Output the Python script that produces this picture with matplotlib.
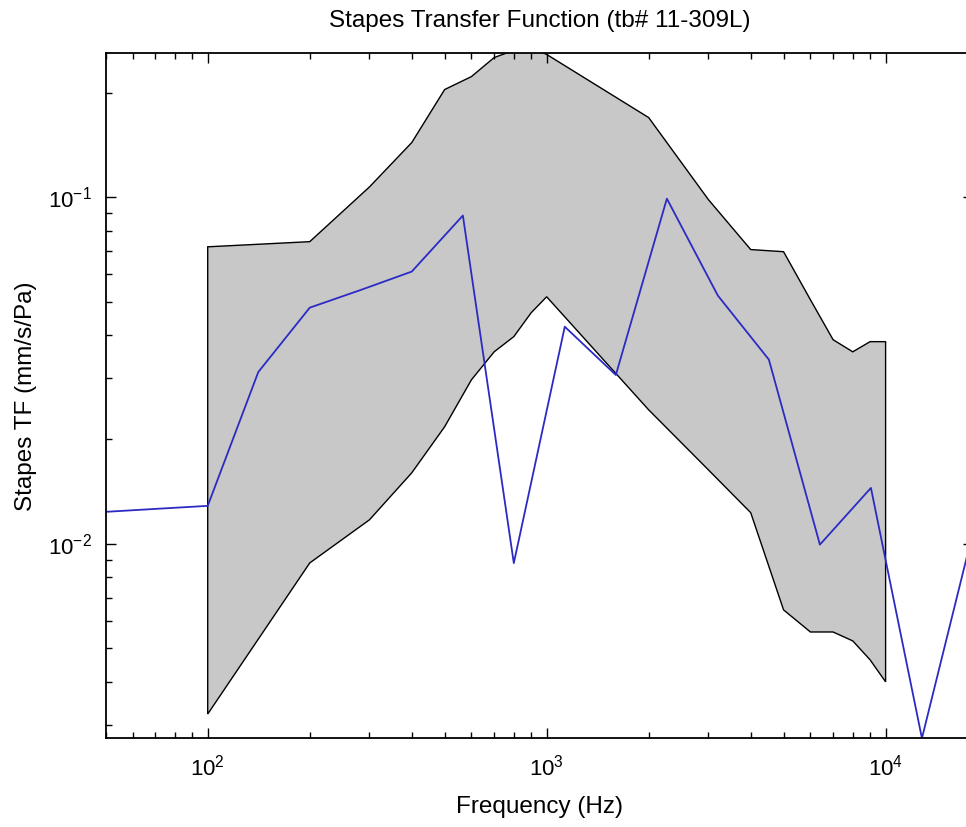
import numpy as np
import matplotlib
matplotlib.use('Agg')
import matplotlib.pyplot as plt
from matplotlib.ticker import LogLocator, NullFormatter

plt.rcParams['font.family'] = ['Liberation Sans', 'DejaVu Sans']

# normal range (shaded band)
band_freq = [100, 200, 300, 400, 500, 600, 700, 800, 900, 1000,
             2000, 3000, 4000, 5000, 6000, 7000, 8000, 9000, 10000]
band_upper = [0.0719, 0.0744, 0.107, 0.1437, 0.2043, 0.2227, 0.2527, 0.265, 0.27, 0.258,
              0.1696, 0.0984, 0.0706, 0.0696, 0.0506, 0.0388, 0.0358, 0.0383, 0.0383]
band_lower = [0.00323, 0.00881, 0.01173, 0.01603, 0.02176, 0.02974, 0.0358, 0.0396, 0.0464, 0.0516,
              0.02435, 0.01635, 0.0123, 0.00645, 0.00557, 0.00557, 0.00525, 0.00463, 0.0040]

# measured stapes TF (half-octave)
tf_freq = [50, 70.7, 100, 141, 200, 283, 400, 566, 800, 1131, 1600, 2263,
           3200, 4525, 6400, 9051, 12800, 18102]
tf_val = [0.01237, 0.01262, 0.01287, 0.0313, 0.048, 0.054, 0.061, 0.0885, 0.0088, 0.0423,
          0.0307, 0.099, 0.052, 0.034, 0.00995, 0.0145, 0.00275, 0.0108]

fig = plt.figure(figsize=(9.66, 8.27), dpi=100)
ax = fig.add_axes([0.1094, 0.1073, 0.8978, 0.8283])

poly_x = np.concatenate([band_freq, band_freq[::-1]])
poly_y = np.concatenate([band_upper, band_lower[::-1]])
ax.fill(poly_x, poly_y, facecolor='#c8c8c8', edgecolor='black', linewidth=1.0)
ax.plot(tf_freq, tf_val, color='#2b2bc4', linewidth=1.3)

ax.set_xscale('log')
ax.set_yscale('log')
ax.set_xlim(50, 18102)
ax.set_ylim(0.00275, 0.26)

ax.xaxis.set_minor_locator(LogLocator(base=10, subs=np.arange(2, 10)))
ax.yaxis.set_minor_locator(LogLocator(base=10, subs=np.arange(2, 10)))
ax.xaxis.set_minor_formatter(NullFormatter())
ax.yaxis.set_minor_formatter(NullFormatter())
ax.tick_params(which='both', direction='in', top=True, right=True, labelsize=16, width=1.0)
ax.tick_params(which='major', length=7.5)
ax.tick_params(axis='x', which='major', pad=12)
ax.tick_params(axis='y', which='major', pad=10)
ax.tick_params(which='minor', length=4.5)
for s in ax.spines.values():
    s.set_linewidth(1.3)

ax.set_title('Stapes Transfer Function (tb# 11-309L)', fontsize=17.5, pad=19)
ax.set_xlabel('Frequency (Hz)', fontsize=17.5, labelpad=11)
ax.set_ylabel('Stapes TF (mm/s/Pa)', fontsize=17.5, labelpad=8)

fig.savefig('out.png', dpi=100)
